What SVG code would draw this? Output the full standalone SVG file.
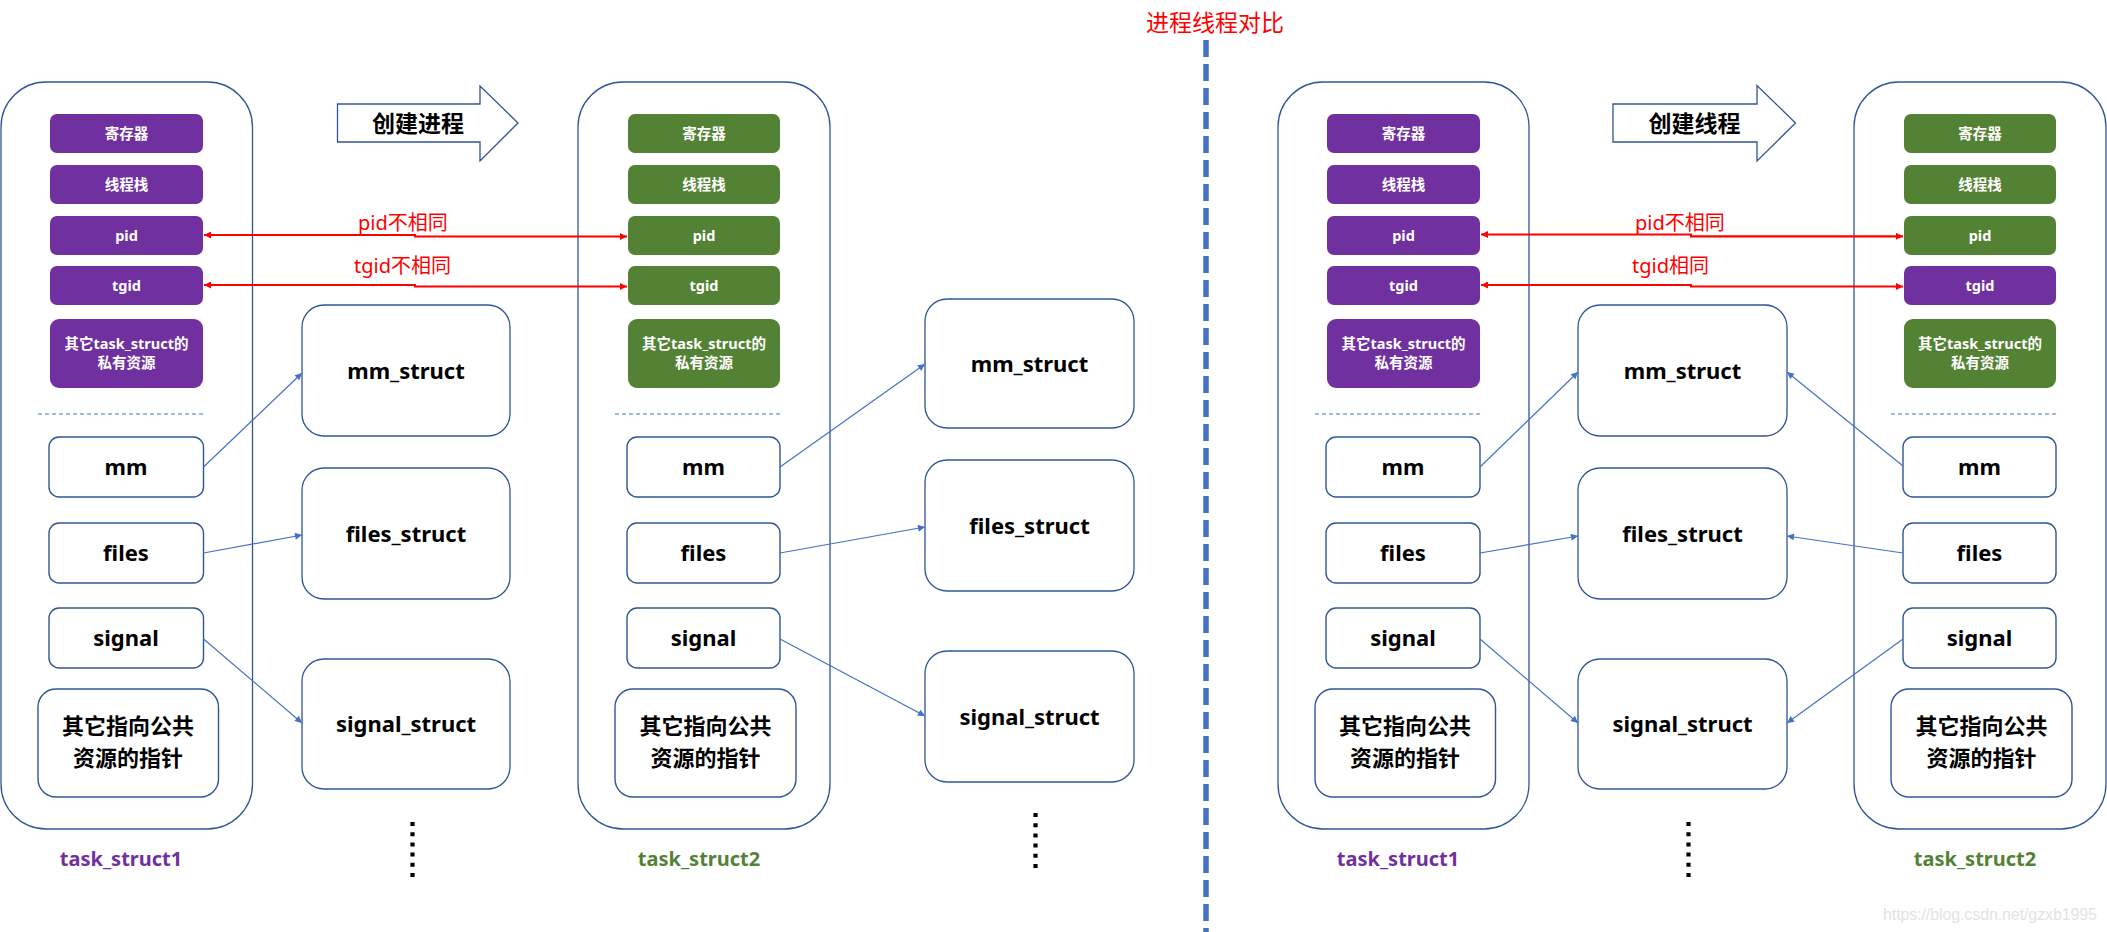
<svg xmlns="http://www.w3.org/2000/svg" width="2107" height="932" viewBox="0 0 2107 932">
<style>
  .cont{fill:#fff;stroke:#2F5597;stroke-width:1.3}
  .pur{fill:#7030A0}
  .grn{fill:#548235}
  .wt{fill:#fff;font-family:"Noto Sans","Noto Sans CJK SC",sans-serif;font-size:14.5px;font-weight:bold;text-anchor:middle}
  .box{fill:#fff;stroke:#2F5597;stroke-width:1.4}
  .bl{fill:#000;font-family:"Noto Sans","Noto Sans CJK SC",sans-serif;font-size:22px;font-weight:bold;text-anchor:middle}
  .cj{fill:#000;font-family:"Noto Sans CJK SC",sans-serif;font-size:23px;font-weight:bold;text-anchor:middle}
  .cp{fill:#000;font-family:"Noto Sans CJK SC",sans-serif;font-size:22px;font-weight:bold;text-anchor:middle}
  .dash{stroke:#4472C4;stroke-width:1.2;stroke-dasharray:4 3;fill:none}
  .dots{stroke:#000;stroke-width:4.2;stroke-dasharray:4 6.2;fill:none}
  .con{stroke:#4472C4;stroke-width:1.2;fill:none;marker-end:url(#ab)}
  .red{stroke:#FF0000;stroke-width:2.2;fill:none;marker-start:url(#rs);marker-end:url(#re)}
  .rt{fill:#FF0000;font-family:"Noto Sans","Noto Sans CJK SC",sans-serif;font-size:20px}
  .lab{font-family:"Noto Sans","Noto Sans CJK SC",sans-serif;font-size:20px;font-weight:bold;text-anchor:middle}
  .big{fill:#fff;stroke:#2F5597;stroke-width:1.3}
</style>
<defs>
  <marker id="ab" viewBox="0 0 10 10" refX="10" refY="5" markerWidth="8" markerHeight="7" markerUnits="userSpaceOnUse" orient="auto">
    <path d="M0,0 L10,5 L0,10 z" fill="#4472C4"/>
  </marker>
  <marker id="re" viewBox="0 0 10 10" refX="10" refY="5" markerWidth="8" markerHeight="7" markerUnits="userSpaceOnUse" orient="auto">
    <path d="M0,0 L10,5 L0,10 z" fill="#FF0000"/>
  </marker>
  <marker id="rs" viewBox="0 0 10 10" refX="0" refY="5" markerWidth="8" markerHeight="7" markerUnits="userSpaceOnUse" orient="auto">
    <path d="M10,0 L0,5 L10,10 z" fill="#FF0000"/>
  </marker>
</defs>
<rect width="2107" height="932" fill="#fff"/>

<!-- title and divider -->
<g id="title">
  <text x="1215" y="31" font-family="'Noto Sans CJK SC',sans-serif" font-size="23" fill="#FF0000" text-anchor="middle">进程线程对比</text>
</g>
<g id="divider">
  <line x1="1206" y1="40" x2="1206" y2="932" stroke="#4472C4" stroke-width="5.5" stroke-dasharray="17 7"/>
</g>

<!-- ===== Section 1: process ===== -->
<g id="task1a">
  <rect class="cont" x="1" y="82" width="251.5" height="747" rx="45"/>
  <rect class="pur" x="50" y="114" width="153" height="39" rx="7"/>
  <text class="wt" x="126.5" y="139">寄存器</text>
  <rect class="pur" x="50" y="165" width="153" height="39" rx="7"/>
  <text class="wt" x="126.5" y="190">线程栈</text>
  <rect class="pur" x="50" y="216" width="153" height="39" rx="7"/>
  <text class="wt" x="126.5" y="241">pid</text>
  <rect class="pur" x="50" y="266" width="153" height="39" rx="7"/>
  <text class="wt" x="126.5" y="291">tgid</text>
  <rect class="pur" x="50" y="319" width="153" height="69" rx="9"/>
  <text class="wt" x="126.5" y="349">其它task_struct的<tspan x="126.5" y="368">私有资源</tspan></text>
  <line class="dash" x1="38" y1="414" x2="204" y2="414"/>
  <rect class="box" x="49" y="437" width="154.5" height="60" rx="10"/>
  <text class="bl" x="126" y="475">mm</text>
  <rect class="box" x="49" y="523" width="154.5" height="60" rx="10"/>
  <text class="bl" x="126" y="561">files</text>
  <rect class="box" x="49" y="608" width="154.5" height="60" rx="10"/>
  <text class="bl" x="126" y="646">signal</text>
  <rect class="box" x="38" y="689" width="180.5" height="108" rx="18"/>
  <text class="cp" x="128" y="734">其它指向公共<tspan x="128" y="766">资源的指针</tspan></text>
  <text class="lab" x="121" y="866" fill="#7030A0">task_struct1</text>
</g>

<g id="arrowA">
  <polygon points="337.5,104 480,104 480,86 518,123 480,161 480,142 337.5,142" fill="#fff" stroke="#2F5597" stroke-width="1.3"/>
  <text class="cj" x="418" y="132">创建进程</text>
</g>

<g id="structsA">
  <rect class="big" x="302" y="305" width="208" height="131" rx="22"/>
  <text class="bl" x="406" y="379">mm_struct</text>
  <rect class="big" x="302" y="468" width="208" height="131" rx="22"/>
  <text class="bl" x="406" y="542">files_struct</text>
  <rect class="big" x="302" y="659" width="208" height="130" rx="22"/>
  <text class="bl" x="406" y="732">signal_struct</text>
  <line class="dots" x1="412.5" y1="822" x2="412.5" y2="880"/>
</g>

<g id="task2a">
  <rect class="cont" x="578" y="82" width="252" height="747" rx="45"/>
  <rect class="grn" x="628" y="114" width="152" height="39" rx="7"/>
  <text class="wt" x="704" y="139">寄存器</text>
  <rect class="grn" x="628" y="165" width="152" height="39" rx="7"/>
  <text class="wt" x="704" y="190">线程栈</text>
  <rect class="grn" x="628" y="216" width="152" height="39" rx="7"/>
  <text class="wt" x="704" y="241">pid</text>
  <rect class="grn" x="628" y="266" width="152" height="39" rx="7"/>
  <text class="wt" x="704" y="291">tgid</text>
  <rect class="grn" x="628" y="319" width="152" height="69" rx="9"/>
  <text class="wt" x="704" y="349">其它task_struct的<tspan x="704" y="368">私有资源</tspan></text>
  <line class="dash" x1="615" y1="414" x2="781" y2="414"/>
  <rect class="box" x="627" y="437" width="153" height="60" rx="10"/>
  <text class="bl" x="703.5" y="475">mm</text>
  <rect class="box" x="627" y="523" width="153" height="60" rx="10"/>
  <text class="bl" x="703.5" y="561">files</text>
  <rect class="box" x="627" y="608" width="153" height="60" rx="10"/>
  <text class="bl" x="703.5" y="646">signal</text>
  <rect class="box" x="615" y="689" width="181" height="108" rx="18"/>
  <text class="cp" x="705.5" y="734">其它指向公共<tspan x="705.5" y="766">资源的指针</tspan></text>
  <text class="lab" x="699" y="866" fill="#548235">task_struct2</text>
</g>

<g id="structsB">
  <rect class="big" x="925" y="299" width="209" height="129" rx="22"/>
  <text class="bl" x="1029.5" y="371.5">mm_struct</text>
  <rect class="big" x="925" y="460" width="209" height="131" rx="22"/>
  <text class="bl" x="1029.5" y="534">files_struct</text>
  <rect class="big" x="925" y="651" width="209" height="131" rx="22"/>
  <text class="bl" x="1029.5" y="724.5">signal_struct</text>
  <line class="dots" x1="1035.5" y1="813" x2="1035.5" y2="871"/>
</g>

<!-- ===== Section 2: thread ===== -->
<g id="task1b">
  <rect class="cont" x="1278" y="82" width="251" height="747" rx="45"/>
  <rect class="pur" x="1327" y="114" width="153" height="39" rx="7"/>
  <text class="wt" x="1403.5" y="139">寄存器</text>
  <rect class="pur" x="1327" y="165" width="153" height="39" rx="7"/>
  <text class="wt" x="1403.5" y="190">线程栈</text>
  <rect class="pur" x="1327" y="216" width="153" height="39" rx="7"/>
  <text class="wt" x="1403.5" y="241">pid</text>
  <rect class="pur" x="1327" y="266" width="153" height="39" rx="7"/>
  <text class="wt" x="1403.5" y="291">tgid</text>
  <rect class="pur" x="1327" y="319" width="153" height="69" rx="9"/>
  <text class="wt" x="1403.5" y="349">其它task_struct的<tspan x="1403.5" y="368">私有资源</tspan></text>
  <line class="dash" x1="1315" y1="414" x2="1481" y2="414"/>
  <rect class="box" x="1326" y="437" width="154" height="60" rx="10"/>
  <text class="bl" x="1403" y="475">mm</text>
  <rect class="box" x="1326" y="523" width="154" height="60" rx="10"/>
  <text class="bl" x="1403" y="561">files</text>
  <rect class="box" x="1326" y="608" width="154" height="60" rx="10"/>
  <text class="bl" x="1403" y="646">signal</text>
  <rect class="box" x="1315" y="689" width="180.5" height="108" rx="18"/>
  <text class="cp" x="1405" y="734">其它指向公共<tspan x="1405" y="766">资源的指针</tspan></text>
  <text class="lab" x="1398" y="866" fill="#7030A0">task_struct1</text>
</g>

<g id="arrowB">
  <polygon points="1613,104 1757,104 1757,85.5 1795.5,123 1757,161 1757,142 1613,142" fill="#fff" stroke="#2F5597" stroke-width="1.3"/>
  <text class="cj" x="1694.5" y="132">创建线程</text>
</g>

<g id="structsC">
  <rect class="big" x="1578" y="305" width="209" height="131" rx="22"/>
  <text class="bl" x="1682.5" y="379">mm_struct</text>
  <rect class="big" x="1578" y="468" width="209" height="131" rx="22"/>
  <text class="bl" x="1682.5" y="542">files_struct</text>
  <rect class="big" x="1578" y="659" width="209" height="130" rx="22"/>
  <text class="bl" x="1682.5" y="732">signal_struct</text>
  <line class="dots" x1="1688.5" y1="822" x2="1688.5" y2="880"/>
</g>

<g id="task2b">
  <rect class="cont" x="1854" y="82" width="252" height="747" rx="45"/>
  <rect class="grn" x="1904" y="114" width="152" height="39" rx="7"/>
  <text class="wt" x="1980" y="139">寄存器</text>
  <rect class="grn" x="1904" y="165" width="152" height="39" rx="7"/>
  <text class="wt" x="1980" y="190">线程栈</text>
  <rect class="grn" x="1904" y="216" width="152" height="39" rx="7"/>
  <text class="wt" x="1980" y="241">pid</text>
  <rect class="pur" x="1904" y="266" width="152" height="39" rx="7"/>
  <text class="wt" x="1980" y="291">tgid</text>
  <rect class="grn" x="1904" y="319" width="152" height="69" rx="9"/>
  <text class="wt" x="1980" y="349">其它task_struct的<tspan x="1980" y="368">私有资源</tspan></text>
  <line class="dash" x1="1891" y1="414" x2="2057" y2="414"/>
  <rect class="box" x="1903" y="437" width="153" height="60" rx="10"/>
  <text class="bl" x="1979.5" y="475">mm</text>
  <rect class="box" x="1903" y="523" width="153" height="60" rx="10"/>
  <text class="bl" x="1979.5" y="561">files</text>
  <rect class="box" x="1903" y="608" width="153" height="60" rx="10"/>
  <text class="bl" x="1979.5" y="646">signal</text>
  <rect class="box" x="1891" y="689" width="181" height="108" rx="18"/>
  <text class="cp" x="1981.5" y="734">其它指向公共<tspan x="1981.5" y="766">资源的指针</tspan></text>
  <text class="lab" x="1975" y="866" fill="#548235">task_struct2</text>
</g>

<!-- connectors -->
<g id="connectors">
  <path class="red" d="M204,235 H415 V236.5 H627"/>
  <path class="red" d="M204,285 H415 V286.5 H627"/>
  <path class="red" d="M1481,234.5 H1691 V236.3 H1903"/>
  <path class="red" d="M1481,285 H1691 V286.5 H1903"/>
  <line class="con" x1="203.5" y1="467" x2="302" y2="373"/>
  <line class="con" x1="203.5" y1="553" x2="302" y2="535"/>
  <line class="con" x1="203.5" y1="639" x2="302" y2="723"/>
  <line class="con" x1="780" y1="467" x2="925" y2="364"/>
  <line class="con" x1="780" y1="553" x2="925" y2="527"/>
  <line class="con" x1="780" y1="639" x2="925" y2="716"/>
  <line class="con" x1="1480" y1="467" x2="1578" y2="372"/>
  <line class="con" x1="1480" y1="553" x2="1578" y2="536"/>
  <line class="con" x1="1480" y1="639" x2="1578" y2="723"/>
  <line class="con" x1="1903" y1="466" x2="1787" y2="372"/>
  <line class="con" x1="1903" y1="553" x2="1787" y2="536"/>
  <line class="con" x1="1903" y1="639" x2="1787" y2="723"/>
</g>
<g id="edge-labels">
  <text class="rt" x="358" y="229.5">pid不相同</text>
  <text class="rt" x="354" y="273">tgid不相同</text>
  <text class="rt" x="1635" y="230">pid不相同</text>
  <text class="rt" x="1632" y="273">tgid相同</text>
</g>

<g id="watermark">
  <text x="1883" y="920" font-family="'Liberation Sans',sans-serif" font-size="16" fill="#e3e3e3" textLength="214">https://blog.csdn.net/gzxb1995</text>
</g>
</svg>
